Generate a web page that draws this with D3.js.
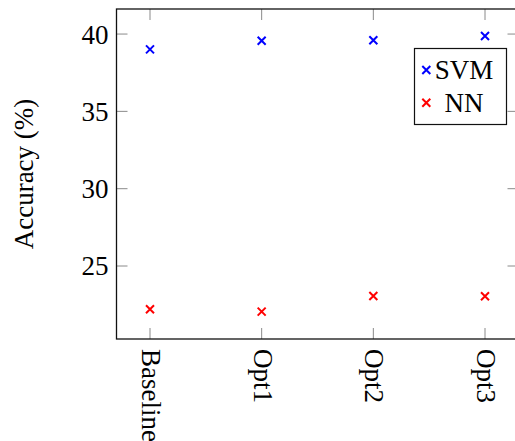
<!DOCTYPE html>
<html>
<head>
<meta charset="utf-8">
<script src="https://cdn.jsdelivr.net/npm/d3@7"></script>
<style>
html,body{margin:0;padding:0;background:#fff;overflow:hidden;}
svg{display:block;}
text{font-family:"Liberation Serif","Times New Roman",serif;fill:#000;}
</style>
</head>
<body>
<svg id="chart" width="515" height="441"></svg>
<script>
const categories = ["Baseline", "Opt1", "Opt2", "Opt3"];
const svmValues = [39.01, 39.57, 39.6, 39.87];
const nnValues = [22.2, 22.05, 23.06, 23.04];
const yTicks = [25, 30, 35, 40];
const seriesNames = ["SVM", "NN"];
const seriesColors = ["#0000ff", "#ff0000"];

(function () {
const svg = d3.select("#chart");
const pLeft = 116.5, pRight = 518.5, pTop = 9, pBottom = 339;
const fontSize = 27;

const x = d3.scalePoint().domain(categories).range([pLeft, pRight]).padding(0.3);
const y = d3.scaleLinear().domain([20.28, 41.62]).range([pBottom, pTop]);

const tickLen = 11;
const tickColor = "#8a8a8a";

const g = svg.append("g");
g.selectAll(".ytl").data(yTicks).enter().append("line")
  .attr("x1", pLeft).attr("x2", pLeft + tickLen)
  .attr("y1", d => y(d)).attr("y2", d => y(d))
  .attr("stroke", tickColor).attr("stroke-width", 1);
g.selectAll(".ytr").data(yTicks).enter().append("line")
  .attr("x1", pRight - tickLen).attr("x2", pRight)
  .attr("y1", d => y(d)).attr("y2", d => y(d))
  .attr("stroke", tickColor).attr("stroke-width", 1);
g.selectAll(".xtb").data(categories).enter().append("line")
  .attr("x1", d => x(d)).attr("x2", d => x(d))
  .attr("y1", pBottom - tickLen).attr("y2", pBottom)
  .attr("stroke", tickColor).attr("stroke-width", 1);
g.selectAll(".xtt").data(categories).enter().append("line")
  .attr("x1", d => x(d)).attr("x2", d => x(d))
  .attr("y1", pTop).attr("y2", pTop + tickLen)
  .attr("stroke", tickColor).attr("stroke-width", 1);

svg.append("rect")
  .attr("x", pLeft).attr("y", pTop)
  .attr("width", pRight - pLeft).attr("height", pBottom - pTop)
  .attr("fill", "none").attr("stroke", "#111").attr("stroke-width", 1.3);

svg.selectAll(".ylab").data(yTicks).enter().append("text")
  .attr("x", pLeft - 8).attr("y", d => y(d))
  .attr("dy", "0.35em")
  .attr("text-anchor", "end")
  .attr("font-size", fontSize)
  .text(d => d);

svg.selectAll(".xlab").data(categories).enter().append("text")
  .attr("transform", d => `translate(${x(d)},${pBottom + 10}) rotate(90)`)
  .attr("dy", "0.3em")
  .attr("text-anchor", "start")
  .attr("font-size", fontSize)
  .text(d => d);

svg.append("text")
  .attr("transform", `translate(33,${(pTop + pBottom) / 2}) rotate(-90)`)
  .attr("text-anchor", "middle")
  .attr("font-size", fontSize)
  .text("Accuracy (%)");

function cross(sel, color) {
  const s = 4;
  sel.append("path")
    .attr("d", `M${-s},${-s}L${s},${s}M${-s},${s}L${s},${-s}`)
    .attr("stroke", color).attr("stroke-width", 2).attr("fill", "none");
}
const allSeries = [svmValues, nnValues];
allSeries.forEach((vals, i) => {
  svg.append("g").selectAll("g").data(vals).enter().append("g")
    .attr("transform", (d, j) => `translate(${x(categories[j])},${y(d)})`)
    .call(sel => cross(sel, seriesColors[i]));
});

const lg = svg.append("g");
lg.append("rect").attr("x", 414.5).attr("y", 48.5).attr("width", 92).attr("height", 76)
  .attr("fill", "#fff").attr("stroke", "#111").attr("stroke-width", 1.2);
seriesNames.forEach((name, i) => {
  const cy = 70 + i * 32.7;
  const m = lg.append("g").attr("transform", `translate(426.3,${cy})`);
  cross(m, seriesColors[i]);
  lg.append("text").attr("x", 464).attr("y", cy).attr("dy", "0.35em")
    .attr("text-anchor", "middle").attr("font-size", fontSize).text(name);
});
})();
</script>
</body>
</html>
